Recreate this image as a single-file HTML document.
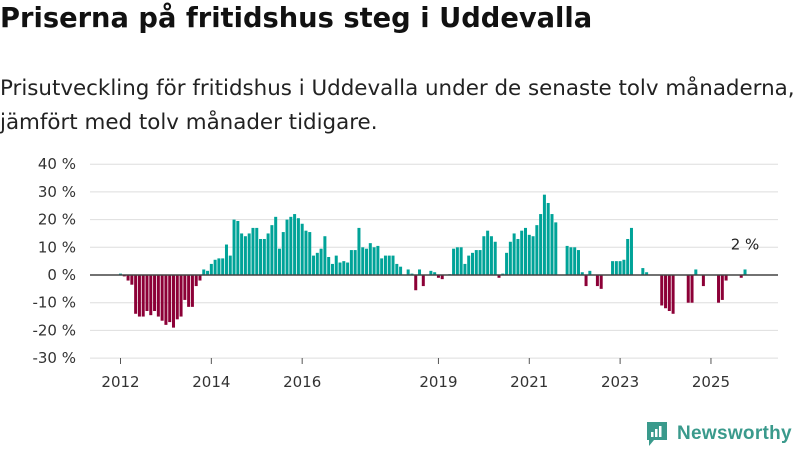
<!DOCTYPE html>
<html><head><meta charset="utf-8">
<style>
body{margin:0;width:800px;height:450px;background:#fff;font-family:"DejaVu Sans","Liberation Sans",sans-serif;color:#222;overflow:hidden;position:relative}
h1{position:absolute;left:0;top:3px;margin:0;font-size:27.3px;font-weight:bold;color:#111;white-space:nowrap}
.sub{position:absolute;left:0;top:72px;font-size:21.4px;line-height:34px;color:#222;white-space:nowrap}
svg{position:absolute;left:0;top:0}
</style></head><body>
<h1>Priserna på fritidshus steg i Uddevalla</h1>
<div class="sub">Prisutveckling för fritidshus i Uddevalla under de senaste tolv månaderna,<br>jämfört med tolv månader tidigare.</div>
<svg id="chart" width="800" height="450"></svg>
<div style="position:absolute;left:645px;top:420px;display:flex;align-items:center">
<svg width="24" height="28" style="position:static"><path d="M2 2h20v18h-13l-5 6v-6h-2z" fill="#3a9a8c"/><rect x="6" y="12" width="2.5" height="5" fill="#fff"/><rect x="10" y="9" width="2.5" height="8" fill="#fff"/><rect x="14" y="6" width="2.5" height="11" fill="#fff"/></svg>
<span style="margin-left:8px;font-size:19px;color:#3a9a8c;font-weight:bold;font-family:'Liberation Sans',sans-serif;letter-spacing:0.3px">Newsworthy</span></div>
<script>
const values=[0.5,-0.5,-2,-3.5,-14,-15,-15,-13,-14.5,-13,-15,-16.5,-18,-17,-19,-16,-15,-9,-11.5,-11.5,-4,-2,2,1.5,4,5.5,6,6,11,7,20,19.5,15,14,15,17,17,13,13,15,18,21,9.5,15.5,20,21,22,20.5,18.5,16,15.5,7,8,9.5,14,6.5,4,7,4.5,5,4.5,9,9,17,10,9.5,11.5,10,10.5,6,7,7,7,4,3,null,2,0.5,-5.5,2,-4,null,1.5,1,-1,-1.5,null,0.3,9.5,10,10,4,7,8,9,9,14,16,14,12,-1,0.5,8,12,15,13,16,17,14.5,14,18,22,29,26,22,19,null,null,10.5,10,10,9,1,-4,1.5,null,-4,-5,null,null,5,5,5,5.5,13,17,null,null,2.5,1,null,null,null,-11,-12,-13,-14,null,null,null,-10,-10,2,null,-4,null,null,null,-10,-9,-2,null,null,null,-1,2];
const yTicks=[40,30,20,10,0,-10,-20,-30];
const xTickLabels=["2012","2014","2016","2019","2021","2023","2025"];
const xTickIdx=[0,24,48,84,108,132,156];
const lastLabel="2 %";
const svg=document.getElementById('chart');const NS='http://www.w3.org/2000/svg';
const x0=120.5,step=3.785,zeroY=275,pxPer=2.77;
function xs(i){return x0+i*step;}
function ys(v){return zeroY-v*pxPer;}
function mk(t,a){const e=document.createElementNS(NS,t);for(const k in a)e.setAttribute(k,a[k]);svg.appendChild(e);return e;}
yTicks.forEach(v=>{
 const g=mk('line',{x1:90,x2:778,y1:ys(v),y2:ys(v),stroke:'#dedede','stroke-width':1});
 
 
 const t=mk('text',{x:76,y:ys(v)+5,'text-anchor':'end','font-size':15,fill:'#333'});t.textContent=v+' %';
 
 
});
values.forEach((v,i)=>{if(v===null)return;
 const r=mk('rect',{x:xs(i)-1.5,width:3,y:v>=0?ys(v):zeroY,height:Math.abs(v)*pxPer,fill:v>=0?'#00a398':'#8c0037'});
 
 
});
const z=mk('line',{x1:90,x2:778,y1:zeroY,y2:zeroY,stroke:'#444','stroke-width':1.5});


xTickIdx.forEach((idx,k)=>{
 const l=mk('line',{x1:xs(idx),x2:xs(idx),y1:358,y2:364,stroke:'#555'});
 
 
 const t=mk('text',{x:xs(idx),y:387,'text-anchor':'middle','font-size':15,fill:'#333'});t.textContent=xTickLabels[k];
 
 
});
const li=values.length-1;
const lt=mk('text',{x:xs(li),y:ys(values[li])-20,'text-anchor':'middle','font-size':15,fill:'#222'});lt.textContent=lastLabel;


</script>
</body></html>
